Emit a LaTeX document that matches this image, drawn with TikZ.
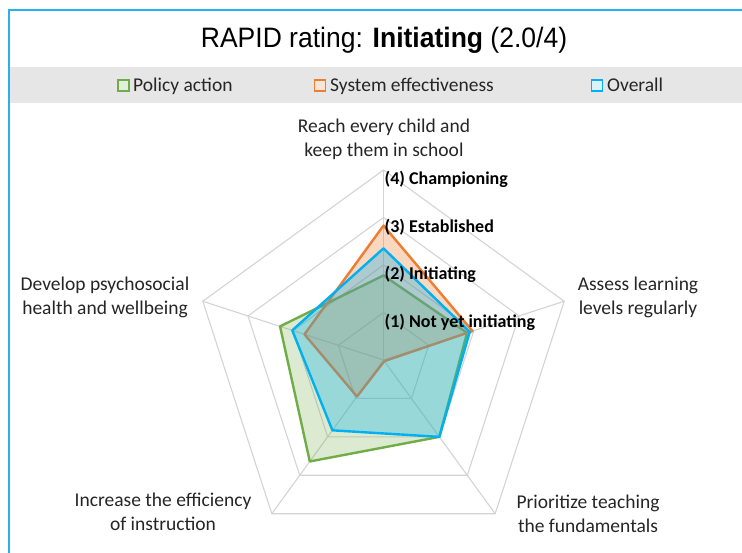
\documentclass[tikz,border=0pt]{standalone}
\usepackage{fontspec}
\setmainfont{Carlito}
\newfontfamily\arialfont{Liberation Sans}
\definecolor{gridc}{HTML}{D4D4D4}
\definecolor{polg}{HTML}{70AD47}
\definecolor{syso}{HTML}{ED7D31}
\definecolor{ovb}{HTML}{00B0F0}
\definecolor{framec}{HTML}{2AB0EE}
\definecolor{bandc}{HTML}{E7E6E6}
\definecolor{labc}{HTML}{262626}
\begin{document}
\begin{tikzpicture}[x=1pt,y=-1pt,
  gridline/.style={draw=gridc, line width=1.1pt},
  serie/.style={line width=2.4pt, line join=round},
  axlab/.style={align=center, text=labc, font=\fontsize{19.5}{24}\selectfont, inner sep=0pt},
  lvlab/.style={anchor=north west, inner sep=0pt, text=black, font=\fontsize{18}{20}\selectfont\bfseries},
  legtext/.style={anchor=base west, inner sep=0pt, text=labc, font=\fontsize{19.5}{22}\selectfont},
  legbox/.style={minimum size=11pt, inner sep=0pt, line width=1.8pt}]
\useasboundingbox (0,0) rectangle (742,553);
\fill[white] (0,0) rectangle (742,553);
% legend band
\fill[bandc] (10,67) rectangle (742,103);
% frame
\draw[framec, line width=2pt] (9,553) -- (9,10) -- (742,10);
% title
\node[anchor=base, inner sep=0pt, font=\arialfont\fontsize{26.5}{30}\selectfont] (title) at (384,48) {\scalebox{1}[1.06]{RAPID rating: \textbf{Initiating} (2.0/4)}};
% legend
\node[legbox, draw=polg, fill=polg!20] (lg1) at (123.5,85.5) {};
\node[legtext] (lt1) at (133,91.5) {Policy action};
\node[legbox, draw=syso, fill=syso!20] (lg2) at (320,85.5) {};
\node[legtext] (lt2) at (330,91.5) {System effectiveness};
\node[legbox, draw=ovb, fill=ovb!15] (lg3) at (597,85.5) {};
\node[legtext] (lt3) at (607,91.5) {Overall};
% radar
\def\u{47.5}
\begin{scope}[shift={(383.5,360)}, yscale=-1]
  \foreach \k in {1,...,4}
    \draw[gridline] (90:\k*\u) -- (18:\k*\u) -- (-54:\k*\u) -- (-126:\k*\u) -- (162:\k*\u) -- cycle;
  \foreach \a in {90,18,-54,-126,162}
    \draw[gridline] (0,0) -- (\a:4*\u);
  % Policy action
  \draw[serie, draw=polg, fill=polg, fill opacity=0.25]
    (90:1.78*\u) -- (18:1.85*\u) -- (-54:2.0*\u) -- (-126:2.64*\u) -- (162:2.29*\u) -- cycle;
  % System effectiveness
  \draw[serie, draw=syso, fill=syso, fill opacity=0.3]
    (90:2.83*\u) -- (18:1.97*\u) -- (-54:0.03*\u) -- (-126:0.95*\u) -- (162:1.75*\u) -- cycle;
  % Overall
  \draw[serie, draw=ovb, fill=ovb, fill opacity=0.3]
    (90:2.35*\u) -- (18:1.91*\u) -- (-54:2.0*\u) -- (-126:1.83*\u) -- (162:2.02*\u) -- cycle;
\end{scope}
% level labels
\node[lvlab] (l4) at (384.5,171) {(4) Championing};
\node[lvlab] (l3) at (384.5,218.5) {(3) Established};
\node[lvlab] (l2) at (384.5,265.5) {(2) Initiating};
\node[lvlab] (l1) at (384.5,313.5) {(1) Not yet initiating};
% axis labels
\node[axlab] (a1) at (384,139) {Reach every child and\\keep them in school};
\node[axlab] (a2) at (638,297) {Assess learning\\levels regularly};
\node[axlab] (a3) at (588,513.5) {Prioritize teaching\\the fundamentals};
\node[axlab] (a4) at (163,511.5) {Increase the efficiency\\of instruction};
\node[axlab] (a5) at (105,297.5) {Develop psychosocial\\health and wellbeing};
\end{tikzpicture}
\end{document}
